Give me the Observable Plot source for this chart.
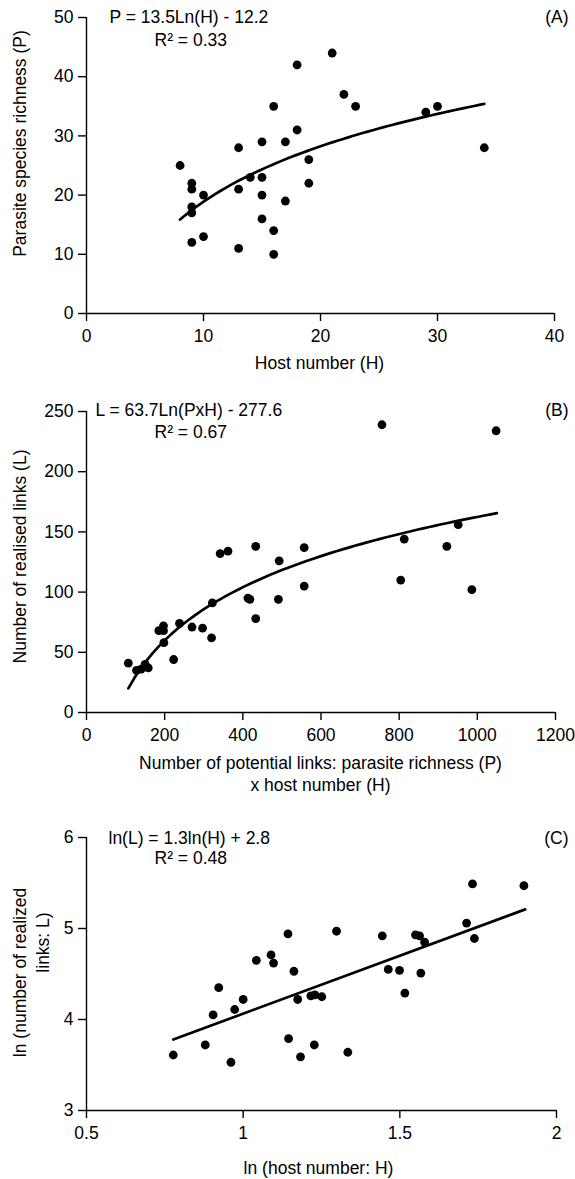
<!DOCTYPE html>
<html><head><meta charset="utf-8">
<script src="https://cdn.jsdelivr.net/npm/d3@7"></script>
<script src="https://cdn.jsdelivr.net/npm/@observablehq/plot@0.6"></script>
<style>
body{margin:0;background:#fff;}
#wrap{position:relative;width:575px;height:1179px;font-family:"Liberation Sans",Arial,sans-serif;}
#wrap svg{position:absolute;left:0;overflow:visible;}
</style></head><body><div id="wrap"></div>
<script>
// ---- Panel A: host number vs parasite species richness
const hostA = [8,9,9,9,9,9,10,10,13,13,13,14,15,15,15,15,16,16,16,17,17,18,18,19,19,21,22,23,29,30,34];
const parA  = [25,22,21,18,17,12,20,13,28,21,11,23,29,23,20,16,35,14,10,29,19,42,31,26,22,44,37,35,34,35,28];
const fitA = [13.5, -12.2];       // P = a Ln(H) + b
const fitRangeA = [8, 34];
const xTicksA = [0, 10, 20, 30, 40];
const yTicksA = [0, 10, 20, 30, 40, 50];

// ---- Panel B: potential links vs realised links
const potB  = [107,128,140,150,158,185,197,197,198,223,238,270,297,320,322,342,362,413,418,433,433,491,493,557,557,756,804,813,922,951,986,1048];
const linkB = [41,35,36,40,37,68,72,68,58,44,74,71,70,62,91,132,134,95,94,138,78,94,126,137,105,239,110,144,138,156,102,234];
const fitB = [63.7, -277.6];      // L = a Ln(PxH) + b
const fitRangeB = [107, 1050];
const xTicksB = [0, 200, 400, 600, 800, 1000, 1200];
const yTicksB = [0, 50, 100, 150, 200, 250];

// ---- Panel C: ln host number vs ln realized links
const lnH = [0.777,0.879,0.904,0.922,0.961,0.973,1.0,1.042,1.089,1.097,1.143,1.145,1.162,1.174,1.183,1.216,1.227,1.229,1.251,1.298,1.334,1.444,1.463,1.499,1.516,1.550,1.563,1.567,1.579,1.713,1.732,1.738,1.896];
const lnL = [3.61,3.72,4.05,4.35,3.53,4.11,4.22,4.65,4.71,4.62,4.94,3.79,4.53,4.22,3.59,4.26,3.72,4.27,4.25,4.97,3.64,4.92,4.55,4.54,4.29,4.93,4.92,4.51,4.85,5.06,5.49,4.89,5.47];
const lineCx = [0.777, 1.9];
const lineCy = [3.78, 5.21];
const xTicksC = [0.5, 1, 1.5, 2];
const yTicksC = [3, 4, 5, 6];

const FONT = '"Liberation Sans", Arial, sans-serif';
const FS = 17.5;
const wrap = document.getElementById("wrap");

function logCurve(coef, range) {
  const n = 60, out = [];
  for (let i = 0; i <= n; i++) {
    const x = range[0] + (range[1] - range[0]) * i / n;
    out.push({x, y: coef[0] * Math.log(x) + coef[1]});
  }
  return out;
}

// o.texts: [text, x, y, anchor, rotate] in pixels relative to the SVG's top-left
function panel(o) {
  const ML = 86;
  const pts = o.xs.map((x, i) => ({x, y: o.ys[i]}));
  const labels = o.texts.map(([t, px, py, anchor, rot]) =>
    Plot.text([t], {frameAnchor: "top-left", text: d => d, textAnchor: anchor, lineAnchor: "middle",
      rotate: rot || 0, dx: px - ML, dy: py - o.mt, fontSize: FS}));
  const svg = Plot.plot({
    width: 575, height: o.height,
    marginLeft: ML, marginRight: o.mr, marginTop: o.mt, marginBottom: o.mb,
    x: {domain: o.xDomain}, y: {domain: o.yDomain},
    style: {fontFamily: FONT, fontSize: FS + "px", color: "black", background: "white", overflow: "visible"},
    marks: [
      Plot.ruleX([o.xDomain[0]], {stroke: "black", strokeWidth: 1.4}),
      Plot.ruleY([o.yDomain[0]], {stroke: "black", strokeWidth: 1.4}),
      Plot.axisX({ticks: o.xTicks, tickSize: 8, tickPadding: 8, tickFormat: d => String(d), label: null, strokeWidth: 1.4, fontSize: FS}),
      Plot.axisY({ticks: o.yTicks, tickSize: 8, tickPadding: 5, tickFormat: d => String(d), label: null, strokeWidth: 1.4, fontSize: FS}),
      Plot.line(o.curve, {x: "x", y: "y", stroke: "black", strokeWidth: 2.7}),
      Plot.dot(pts, {x: "x", y: "y", r: 4.4, fill: "black", stroke: "none"}),
      ...labels
    ]
  });
  svg.style.top = o.top + "px";
  wrap.appendChild(svg);
}

panel({
  top: 0, height: 380, mt: 17, mb: 67, mr: 21,
  xs: hostA, ys: parA, xDomain: [0, 40], yDomain: [0, 50], xTicks: xTicksA, yTicks: yTicksA,
  curve: logCurve(fitA, fitRangeA),
  texts: [
    ["P = 13.5Ln(H) - 12.2", 109, 17, "start"],
    ["R² = 0.33", 154, 40, "start"],
    ["(A)", 568, 17, "end"],
    ["Host number (H)", 319, 363, "middle"],
    ["Parasite species richness (P)", 20, 143, "middle", -90]
  ]
});

panel({
  top: 390, height: 410, mt: 21, mb: 88, mr: 20,
  xs: potB, ys: linkB, xDomain: [0, 1200], yDomain: [0, 250], xTicks: xTicksB, yTicks: yTicksB,
  curve: logCurve(fitB, fitRangeB),
  texts: [
    ["L = 63.7Ln(PxH) - 277.6", 95, 20, "start"],
    ["R² = 0.67", 154, 42, "start"],
    ["(B)", 568, 20, "end"],
    ["Number of potential links: parasite richness (P)", 320, 373, "middle"],
    ["x host number (H)", 320, 395, "middle"],
    ["Number of realised links (L)", 20, 166, "middle", -90]
  ]
});

panel({
  top: 810, height: 369, mt: 27, mb: 69, mr: 19,
  xs: lnH, ys: lnL, xDomain: [0.5, 2], yDomain: [3, 6], xTicks: xTicksC, yTicks: yTicksC,
  curve: lineCx.map((x, i) => ({x, y: lineCy[i]})),
  texts: [
    ["ln(L) = 1.3ln(H) + 2.8", 108, 28, "start"],
    ["R² = 0.48", 154, 48, "start"],
    ["(C)", 568, 28, "end"],
    ["ln (host number: H)", 318, 358, "middle"],
    ["ln (number of realized", 20, 162, "middle", -90],
    ["links: L)", 43, 132, "middle", -90]
  ]
});
</script></body></html>
